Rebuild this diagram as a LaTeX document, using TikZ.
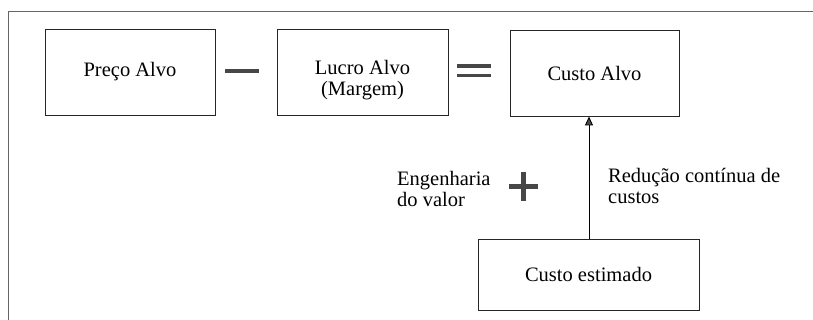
\documentclass[tikz,border=0pt]{standalone}
\usepackage{fontspec}
\setmainfont{Liberation Serif}
\usetikzlibrary{arrows.meta}
\begin{document}
\begin{tikzpicture}[x=1pt,y=-1pt,
  box/.style={draw=black!85, line width=0.9pt, minimum width=#1, inner sep=0pt},
  lbl/.style={font=\fontsize{20.5}{21.5}\selectfont, inner sep=0pt, align=left},
  sym/.style={draw=black!72, line width=3.6pt},
  frameline/.style={draw=black!60, line width=0.9pt}]
\useasboundingbox (0,0) rectangle (813,320);
% frame
\coordinate (f1) at (8,320);
\coordinate (f2) at (8,11);
\coordinate (f3) at (813,11);
\draw[frameline] (f1) -- (f2) -- (f3);
% boxes
\node[box=170pt, minimum height=86pt, font=\fontsize{20.5}{21.5}\selectfont] (preco) at (130,72) {Preço Alvo};
\node[box=171pt, minimum height=86pt] (lucro) at (362.5,72) {};
\node[lbl, align=center, anchor=base] (lucrot) at (362.5,96) {Lucro Alvo\\(Margem)};
\node[box=169pt, minimum height=86pt, font=\fontsize{20.5}{21.5}\selectfont] (custo) at (594.5,73) {Custo Alvo};
\node[box=221pt, minimum height=71pt, font=\fontsize{20.5}{21.5}\selectfont] (est) at (588.5,274.5) {Custo estimado};
% operators
\coordinate (m1) at (225,71); \coordinate (m2) at (259,71);
\draw[sym] (m1) -- (m2);
\coordinate (e1) at (457,66); \coordinate (e2) at (491,66);
\coordinate (e3) at (457,75.5); \coordinate (e4) at (491,75.5);
\draw[sym, line width=3.3pt] (e1) -- (e2) (e3) -- (e4);
\coordinate (p1) at (509,187); \coordinate (p2) at (538,187);
\coordinate (p3) at (523.5,172); \coordinate (p4) at (523.5,201);
\draw[sym, line width=5pt] (p1) -- (p2) (p3) -- (p4);
% arrow
\draw[line width=0.9pt, -{Triangle[length=9pt,width=8pt,fill=black!70]}] (est.north -| 589,0) -- (custo.south -| 589,0);
% labels
\node[lbl, anchor=base west] (eng) at (397,207) {Engenharia\\do valor};
\node[lbl, anchor=base west] (red) at (608,204) {Redução contínua de\\custos};
\end{tikzpicture}
\end{document}
